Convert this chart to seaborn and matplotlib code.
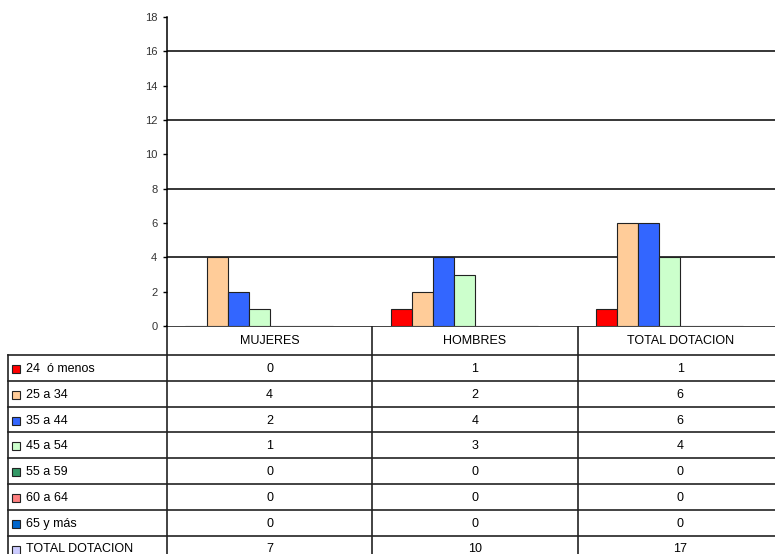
import matplotlib
matplotlib.use("Agg")
import matplotlib.pyplot as plt
import seaborn as sns
import pandas as pd
import numpy as np

# data
grupos = ["MUJERES", "HOMBRES", "TOTAL DOTACION"]
series = ["24  ó menos", "25 a 34", "35 a 44", "45 a 54", "55 a 59", "60 a 64", "65 y más", "TOTAL DOTACION"]
v_24 = [0, 1, 1]
v_25_34 = [4, 2, 6]
v_35_44 = [2, 4, 6]
v_45_54 = [1, 3, 4]
v_55_59 = [0, 0, 0]
v_60_64 = [0, 0, 0]
v_65 = [0, 0, 0]
v_total = [7, 10, 17]
colores = ["#FF0000", "#FFCC99", "#3366FF", "#CCFFCC", "#339966", "#FF8080", "#0066CC", "#CCCCFF"]

valores = [v_24, v_25_34, v_35_44, v_45_54, v_55_59, v_60_64, v_65, v_total]
filas = []
for s, vals in zip(series, valores):
    for g, v in zip(grupos, vals):
        filas.append({"grupo": g, "serie": s, "valor": v})
df = pd.DataFrame(filas)
# the total series is shown only in the table, its slot stays empty in the chart
df_plot = df.copy()
df_plot.loc[df_plot["serie"] == "TOTAL DOTACION", "valor"] = np.nan

plt.rcParams["font.family"] = ["Liberation Sans", "DejaVu Sans"]

W, H = 775, 554
fig = plt.figure(figsize=(W / 100, H / 100), dpi=100)

x0, x1 = 167, 783
y_top, y_base = 17, 326
ax = fig.add_axes([x0 / W, 1 - y_base / H, (x1 - x0) / W, (y_base - y_top) / H])

sns.barplot(data=df_plot, x="grupo", y="valor", hue="serie", order=grupos,
            hue_order=series, palette=colores, saturation=1, width=0.82,
            edgecolor="#222222", linewidth=0.8, errorbar=None, legend=False,
            ax=ax, zorder=3)

ax.set_xlim(-0.5, 2.5)
ax.set_ylim(0, 18)
ax.set_yticks(range(0, 19, 2))
for v in range(4, 18, 4):
    ax.axhline(v, color="black", lw=1.1, zorder=1)
for s in ["top", "right", "bottom"]:
    ax.spines[s].set_visible(False)
ax.spines["left"].set_linewidth(1.1)
ax.tick_params(axis="y", direction="out", length=3, width=1, labelsize=8,
               labelcolor="#333333", pad=4)
ax.tick_params(axis="x", bottom=False, labelbottom=False)
ax.set_xlabel("")
ax.set_ylabel("")

# data table under the chart
tab = fig.add_axes([0, 0, 1, 1], zorder=-1)
tab.set_xlim(0, W)
tab.set_ylim(H, 0)
tab.axis("off")

cat_w = (x1 - x0) / 3
col_x = [8, x0, x0 + cat_w, x0 + 2 * cat_w, x1]
head_bot = 355
row_h = 25.8
row_y = [head_bot + i * row_h for i in range(len(series) + 1)]

lc = "#222222"
tab.plot([x0, x1], [y_base, y_base], color=lc, lw=1.2)
for y in row_y:
    tab.plot([col_x[0], x1], [y, y], color=lc, lw=1.2)
tab.plot([col_x[0], col_x[0]], [head_bot, row_y[-1]], color=lc, lw=1.2)
for cx in col_x[1:4]:
    tab.plot([cx, cx], [y_base, row_y[-1]], color=lc, lw=1.2)

for j, g in enumerate(grupos):
    cx = (col_x[j + 1] + col_x[j + 2]) / 2
    tab.text(cx, (y_base + head_bot) / 2 + 1, g, ha="center", va="center", fontsize=9)

for i, (s, vals) in enumerate(zip(series, valores)):
    cy = row_y[i] + row_h / 2 + 1
    tab.add_patch(plt.Rectangle((12, cy - 4), 8, 8, facecolor=colores[i],
                                edgecolor="#222222", lw=0.8))
    tab.text(26, cy, s, ha="left", va="center", fontsize=9)
    for j, v in enumerate(vals):
        cx = (col_x[j + 1] + col_x[j + 2]) / 2
        tab.text(cx, cy, str(v), ha="center", va="center", fontsize=9)

fig.savefig("out.png", dpi=100)
